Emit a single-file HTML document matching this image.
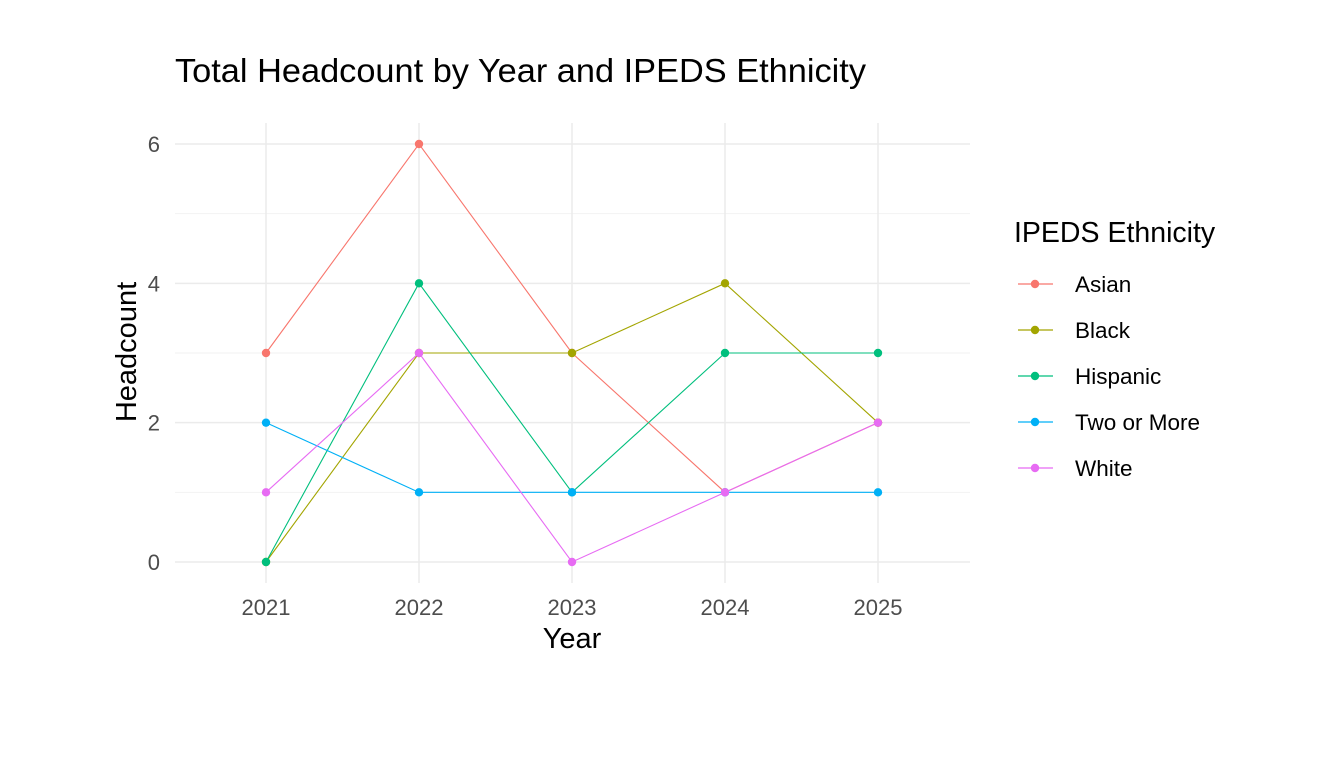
<!DOCTYPE html>
<html><head><meta charset="utf-8"><style>
body{margin:0;background:#fff;}
svg{display:block;font-family:"Liberation Sans",Arial,sans-serif;}
</style></head><body>
<svg id="chart" width="1344" height="768">
<rect width="1344" height="768" fill="#fff"/>
<text x="175" y="82" font-size="33" fill="#000" textLength="691" lengthAdjust="spacingAndGlyphs">Total Headcount by Year and IPEDS Ethnicity</text>
<g id="grid"></g>
<g id="series"></g>
<g id="axes"></g>
<text x="572" y="648" font-size="29" text-anchor="middle" fill="#000">Year</text>
<text transform="translate(136,352) rotate(-90)" font-size="29" text-anchor="middle" fill="#000">Headcount</text>
<text x="1014" y="242" font-size="28.5" fill="#000">IPEDS Ethnicity</text>
<g id="legend"></g>
</svg>
<script>
const years=[2021,2022,2023,2024,2025];
const yTicks=[0,2,4,6];
const yMinor=[1,3,5];
const seriesNames=["Asian","Black","Hispanic","Two or More","White"];
const asian=[3,6,3,1,2];
const black=[0,3,3,4,2];
const hispanic=[0,4,1,3,3];
const twoOrMore=[2,1,1,1,1];
const white=[1,3,0,1,2];
const colors=["#F8766D","#A3A500","#00BF7D","#00B0F6","#E76BF3"];
const allSeries=[asian,black,hispanic,twoOrMore,white];
const NS="http://www.w3.org/2000/svg";
const X0=175,X1=970,Y0=123,Y1=583;
function xs(i){return 266+(878-266)*i/(years.length-1);}
function ys(v){return 562-(562-144)*v/6;}
function mk(t,a,p){const e=document.createElementNS(NS,t);for(const k in a)e.setAttribute(k,a[k]);p.appendChild(e);return e;}
const grid=document.getElementById('grid'),ser=document.getElementById('series'),axes=document.getElementById('axes'),leg=document.getElementById('legend');
yMinor.forEach(v=>{const l=mk('line',{x1:X0,x2:X1,y1:ys(v),y2:ys(v),stroke:'#f2f2f2','stroke-width':1},grid);

});
yTicks.forEach(v=>{const l=mk('line',{x1:X0,x2:X1,y1:ys(v),y2:ys(v),stroke:'#ebebeb','stroke-width':1.5},grid);


const t=mk('text',{x:160,y:ys(v)+8,'font-size':22,fill:'#4d4d4d','text-anchor':'end'},axes);t.textContent=v;

});
years.forEach((y,i)=>{const l=mk('line',{x1:xs(i),x2:xs(i),y1:Y0,y2:Y1,stroke:'#ebebeb','stroke-width':1.5},grid);


const t=mk('text',{x:xs(i),y:615,'font-size':22,fill:'#4d4d4d','text-anchor':'middle'},axes);t.textContent=y;

});
allSeries.forEach((d,s)=>{
const pts=d.map((v,i)=>xs(i)+','+ys(v)).join(' ');
const pl=mk('polyline',{points:pts,fill:'none',stroke:colors[s],'stroke-width':1.1},ser);


d.forEach((v,i)=>{const c=mk('circle',{cx:xs(i),cy:ys(v),r:4.2,fill:colors[s]},ser);

});
const ly=284+46*s;
const g=mk('g',{},leg);


mk('line',{x1:1018,x2:1053,y1:ly,y2:ly,stroke:colors[s],'stroke-width':1.2},g);
mk('circle',{cx:1035,cy:ly,r:4.2,fill:colors[s]},g);
const t=mk('text',{x:1075,y:ly+8,'font-size':22.5,fill:'#000'},g);t.textContent=seriesNames[s];
});
</script>
</body></html>
